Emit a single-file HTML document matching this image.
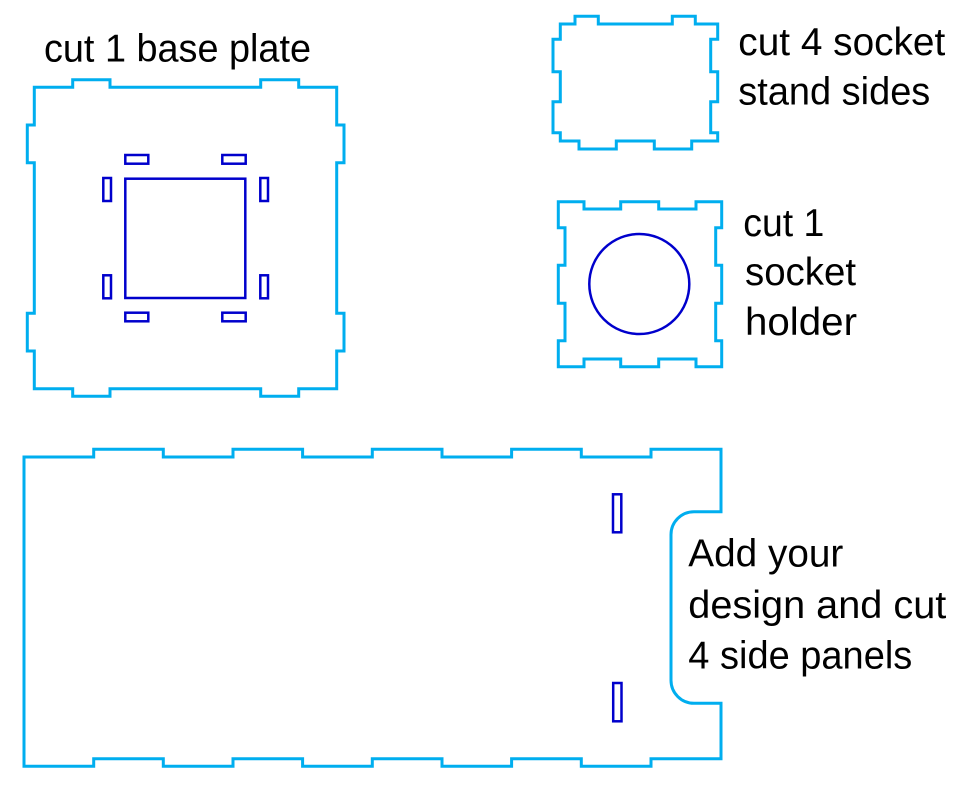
<!DOCTYPE html>
<html>
<head>
<meta charset="utf-8">
<style>
  html, body { margin: 0; padding: 0; background: #ffffff; }
  body { width: 973px; height: 788px; overflow: hidden; }
  svg { display: block; }
  text { font-family: "Liberation Sans", "DejaVu Sans", sans-serif; font-size: 39px; fill: #000000; }
</style>
</head>
<body>
<svg width="973" height="788" viewBox="0 0 973 788" xmlns="http://www.w3.org/2000/svg">
  <rect x="0" y="0" width="973" height="788" fill="#ffffff"/>

  <!-- Base plate -->
  <path fill="none" stroke="#00aeef" stroke-width="3" stroke-linejoin="miter"
    d="M34.3,87.3 L72.7,87.3 L72.7,79.7 L110,79.7 L110,87.3 L260.7,87.3 L260.7,79.7 L298.7,79.7 L298.7,87.3 L336.7,87.3 L336.7,125 L344,125 L344,162.7 L336.7,162.7 L336.7,313.3 L344,313.3 L344,351 L336.7,351 L336.7,388.7 L298.7,388.7 L298.7,396.3 L260.7,396.3 L260.7,388.7 L110,388.7 L110,396.3 L72.7,396.3 L72.7,388.7 L34.3,388.7 L34.3,351 L27.3,351 L27.3,313.3 L34.3,313.3 L34.3,162.7 L27.3,162.7 L27.3,125 L34.3,125 Z"/>
  <g fill="none" stroke="#0000cc" stroke-width="2.5">
    <rect x="125.3" y="178.7" width="120" height="119.3"/>
    <rect x="125.3" y="155" width="23" height="8.7"/>
    <rect x="222.3" y="155" width="23.4" height="8.7"/>
    <rect x="125.3" y="312.7" width="23" height="8.6"/>
    <rect x="222.3" y="312.7" width="23.4" height="8.6"/>
    <rect x="103.3" y="178" width="7.7" height="23"/>
    <rect x="260.3" y="178" width="7.7" height="23"/>
    <rect x="103.3" y="275.3" width="7.7" height="23"/>
    <rect x="260.3" y="275.3" width="7.7" height="23"/>
  </g>

  <!-- Socket stand side -->
  <path fill="none" stroke="#00aeef" stroke-width="3"
    d="M560.3,24 L575,24 L575,16.3 L598.3,16.3 L598.3,24 L672.3,24 L672.3,16.3 L695.3,16.3 L695.3,24 L717.7,24 L717.7,39.3 L710.7,39.3 L710.7,71.7 L717.7,71.7 L717.7,101.7 L710.7,101.7 L710.7,132.7 L717.7,132.7 L717.7,141 L691.7,141 L691.7,149 L654.3,149 L654.3,141 L616.3,141 L616.3,149 L579,149 L579,141 L560.3,141 L560.3,132.7 L553,132.7 L553,101.7 L560.3,101.7 L560.3,71.7 L553,71.7 L553,39.3 L560.3,39.3 Z"/>

  <!-- Socket holder -->
  <path fill="none" stroke="#00aeef" stroke-width="3"
    d="M558.3,201.7 L584,201.7 L584,209 L620.7,209 L620.7,201.7 L658.7,201.7 L658.7,209 L696,209 L696,201.7 L721.7,201.7 L721.7,227.7 L715.7,227.7 L715.7,265.3 L721.7,265.3 L721.7,303.3 L715.7,303.3 L715.7,340.7 L721.7,340.7 L721.7,366.7 L696,366.7 L696,359 L658.7,359 L658.7,366.7 L620.7,366.7 L620.7,359 L584,359 L584,366.7 L558.3,366.7 L558.3,340.7 L565,340.7 L565,303.3 L558.3,303.3 L558.3,265.3 L565,265.3 L565,227.7 L558.3,227.7 Z"/>
  <circle cx="639.3" cy="284" r="50" fill="none" stroke="#0000cc" stroke-width="2.5"/>

  <!-- Side panel -->
  <path fill="none" stroke="#00aeef" stroke-width="3"
    d="M24,457 L93.7,457 L93.7,449.3 L163.3,449.3 L163.3,457 L233,457 L233,449.3 L302.6,449.3 L302.6,457 L372.3,457 L372.3,449.3 L442,449.3 L442,457 L511.6,457 L511.6,449.3 L581.3,449.3 L581.3,457 L651,457 L651,449.3 L721,449.3 L721,511.7 L694,511.7 A23,23 0 0 0 671,534.7 L671,680.3 A23,23 0 0 0 694,703.3 L721,703.3 L721,758.7 L651,758.7 L651,766.3 L581.3,766.3 L581.3,758.7 L511.6,758.7 L511.6,766.3 L442,766.3 L442,758.7 L372.3,758.7 L372.3,766.3 L302.6,766.3 L302.6,758.7 L233,758.7 L233,766.3 L163.3,766.3 L163.3,758.7 L93.7,758.7 L93.7,766.3 L24,766.3 Z"/>
  <g fill="none" stroke="#0000cc" stroke-width="2.5">
    <rect x="613" y="494.3" width="8.3" height="38"/>
    <rect x="613.2" y="683" width="8.3" height="38.3"/>
  </g>

  <!-- Labels -->
  <text x="44" y="61.5" textLength="267" lengthAdjust="spacingAndGlyphs">cut 1 base plate</text>
  <text x="738.3" y="55" textLength="207" lengthAdjust="spacingAndGlyphs">cut 4 socket</text>
  <text x="738.3" y="104.5" textLength="192" lengthAdjust="spacingAndGlyphs">stand sides</text>
  <text x="743.3" y="236" textLength="81" lengthAdjust="spacingAndGlyphs">cut 1</text>
  <text x="745" y="285" textLength="111" lengthAdjust="spacingAndGlyphs">socket</text>
  <text x="745" y="335" textLength="112" lengthAdjust="spacingAndGlyphs">holder</text>
  <text x="688.3" y="566.7" textLength="155" lengthAdjust="spacingAndGlyphs">Add your</text>
  <text x="688.3" y="618" textLength="258" lengthAdjust="spacingAndGlyphs">design and cut</text>
  <text x="688.3" y="668.3" textLength="224" lengthAdjust="spacingAndGlyphs">4 side panels</text>
</svg>
</body>
</html>
